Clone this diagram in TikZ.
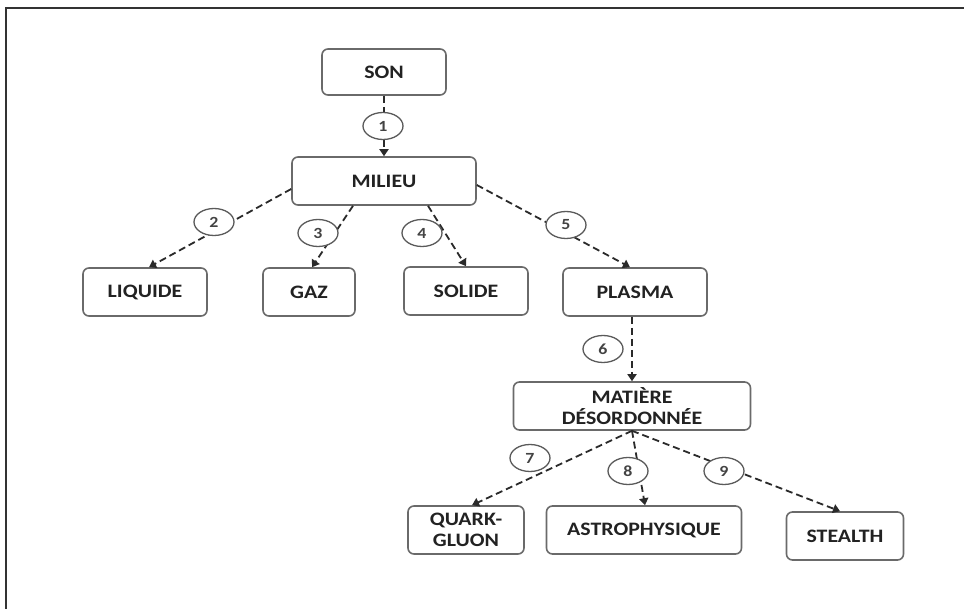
\documentclass[tikz,border=0pt]{standalone}
\usepackage{fontspec}
\newfontfamily\boxfont{Carlito}[FakeStretch=1.15]
\usetikzlibrary{arrows.meta,calc,shapes.geometric}
\definecolor{boxline}{HTML}{6A6A6A}
\definecolor{ink}{HTML}{222222}
\definecolor{link}{HTML}{2A2A2A}
\tikzset{
  stagebox/.style={draw=boxline, line width=1.6pt, rounded corners=6pt, fill=white,
    inner sep=0pt, minimum height=48, text=ink, align=center,
    font=\boxfont\bfseries\fontsize{19}{21}\selectfont},
  numtag/.style={draw=boxline!85!black, line width=1.3pt, ellipse, fill=white, inner sep=0pt,
    minimum width=40, minimum height=27, text=ink!85,
    font=\boxfont\bfseries\fontsize{15.5}{17}\selectfont},
  link/.style={draw=link, line width=1.8pt, dash pattern=on 7pt off 4pt,
    -{Triangle[length=7pt,width=9pt]}},
  frameline/.style={draw=black!80, line width=2pt},
}
\begin{document}
\begin{tikzpicture}[x=1pt,y=-1pt]
\useasboundingbox (0,0) rectangle (964,609);
\fill[white] (0,0) rectangle (964,609);
% outer frame (top and left edges)
\draw[frameline] (964,8) -- (6,8) -- (6,609);

% boxes
\node[stagebox, minimum width=124, minimum height=46] (son) at (384,72) {SON};
\node[stagebox, minimum width=184] (milieu) at (384,181) {MILIEU};
\node[stagebox, minimum width=124] (liquide) at (145,292) {LIQUIDE};
\node[stagebox, minimum width=92] (gaz) at (309,292) {GAZ};
\node[stagebox, minimum width=124] (solide) at (466,291) {SOLIDE};
\node[stagebox, minimum width=144] (plasma) at (635,292) {PLASMA};
\node[stagebox, minimum width=237] (matiere) at (632,406) {MATIÈRE\\DÉSORDONNÉE};
\node[stagebox, minimum width=116] (quark) at (466,530) {QUARK-\\GLUON};
\node[stagebox, minimum width=195] (astro) at (644,530) {ASTROPHYSIQUE};
\node[stagebox, minimum width=117] (stealth) at (845,536) {STEALTH};

% connectors
\draw[link] (son.south) -- (milieu.north);
\draw[link] ($(milieu.west)+(0,8)$) -- ($(liquide.north)+(4,0)$);
\draw[link] ($(milieu.south)+(-31,0)$) -- ($(gaz.north)+(3,0)$);
\draw[link] ($(milieu.south)+(44,0)$) -- (solide.north);
\draw[link] ($(milieu.east)+(0,4)$) -- ($(plasma.north)+(-5,0)$);
\draw[link] ($(plasma.south)+(-3,0)$) -- (matiere.north);
\draw[link] (matiere.south) -- ($(quark.north)+(6,0)$);
\draw[link] (matiere.south) -- ($(astro.north)+(1,0)$);
\draw[link] (matiere.south) -- ($(stealth.north)+(-5,0)$);

% numbered tags
\node[numtag] (t1) at (383,126) {1};
\node[numtag] (t2) at (214,222) {2};
\node[numtag] (t3) at (318,233) {3};
\node[numtag] (t4) at (422,233) {4};
\node[numtag] (t5) at (566,225) {5};
\node[numtag] (t6) at (603,349) {6};
\node[numtag] (t7) at (530,458) {7};
\node[numtag] (t8) at (628,471) {8};
\node[numtag] (t9) at (724,471) {9};
\end{tikzpicture}
\end{document}
